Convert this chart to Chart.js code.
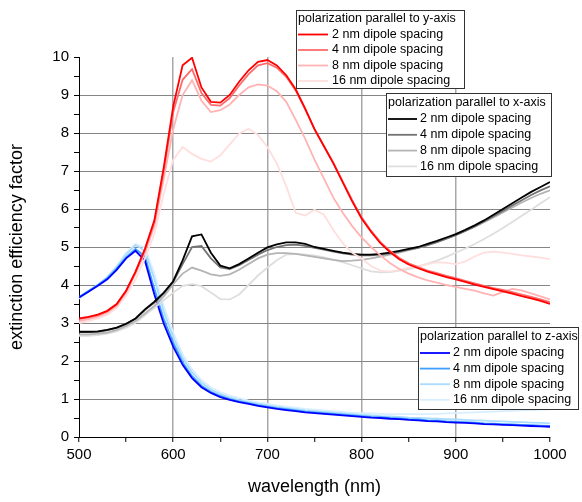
<!DOCTYPE html>
<html>
<head>
<meta charset="utf-8">
<script src="https://cdn.jsdelivr.net/npm/chart.js@4"></script>
<style>
  body { margin: 0; background: #fff; }
</style>
</head>
<body>
<canvas id="extChart" width="582" height="502"></canvas>
<script>
// wavelengths (nm), every 10 nm
const wavelengths = [500, 510, 520, 530, 540, 550, 560, 570, 580, 590, 600, 610, 620, 630, 640, 650, 660, 670, 680, 690, 700,
  710, 720, 730, 740, 750, 760, 770, 780, 790, 800, 810, 820, 830, 840, 850, 860, 870, 880, 890, 900,
  910, 920, 930, 940, 950, 960, 970, 980, 990, 1000];

// polarization parallel to y-axis
const yPol2 = [3.12, 3.16, 3.22, 3.32, 3.5, 3.85, 4.35, 4.95, 5.7, 7.1, 8.7, 9.78, 9.98, 9.2, 8.82, 8.8, 9.0, 9.35, 9.65, 9.87, 9.92,
  9.78, 9.52, 9.15, 8.65, 8.1, 7.65, 7.2, 6.7, 6.2, 5.75, 5.4, 5.1, 4.87, 4.68, 4.54, 4.44, 4.35, 4.28, 4.21, 4.15,
  4.08, 4.01, 3.95, 3.89, 3.83, 3.77, 3.71, 3.65, 3.58, 3.5];
const yPol4 = [3.1, 3.15, 3.21, 3.31, 3.49, 3.84, 4.33, 4.92, 5.65, 7.0, 8.55, 9.4, 9.68, 9.05, 8.74, 8.72, 8.92, 9.25, 9.55, 9.78, 9.84,
  9.72, 9.48, 9.12, 8.63, 8.1, 7.66, 7.22, 6.72, 6.23, 5.78, 5.43, 5.13, 4.9, 4.71, 4.57, 4.47, 4.38, 4.31, 4.24, 4.18,
  4.11, 4.04, 3.98, 3.92, 3.87, 3.81, 3.75, 3.69, 3.62, 3.55];
const yPol8 = [3.05, 3.1, 3.17, 3.27, 3.45, 3.8, 4.3, 4.85, 5.55, 6.8, 8.1, 9.0, 9.39, 8.85, 8.55, 8.6, 8.75, 9.0, 9.2, 9.28, 9.25,
  9.1, 8.82, 8.35, 7.85, 7.3, 6.8, 6.3, 5.9, 5.55, 5.25, 5.0, 4.78, 4.58, 4.42, 4.3, 4.2, 4.12, 4.06, 4.0, 3.95,
  3.9, 3.85, 3.78, 3.72, 3.82, 3.9, 3.86, 3.78, 3.7, 3.62];
const yPol16 = [3.0, 3.05, 3.12, 3.22, 3.4, 3.72, 4.15, 4.7, 5.35, 6.4, 7.3, 7.63, 7.45, 7.32, 7.25, 7.41, 7.7, 7.98, 8.11, 7.95, 7.63,
  7.2, 6.6, 5.9, 5.83, 5.98, 5.85, 5.45, 5.1, 4.85, 4.7, 4.5, 4.38, 4.35, 4.4, 4.45, 4.5, 4.55, 4.6, 4.58, 4.55,
  4.62, 4.75, 4.85, 4.88, 4.85, 4.82, 4.78, 4.75, 4.72, 4.68];

// polarization parallel to x-axis
const xPol2 = [2.77, 2.77, 2.78, 2.82, 2.88, 2.98, 3.12, 3.36, 3.56, 3.8, 4.1, 4.65, 5.28, 5.33, 4.85, 4.51, 4.44, 4.55, 4.7, 4.85, 4.99,
  5.07, 5.12, 5.12, 5.08, 5.0, 4.95, 4.9, 4.85, 4.82, 4.8, 4.8, 4.82, 4.85, 4.9, 4.95, 5.0, 5.08, 5.16, 5.25, 5.34,
  5.45, 5.57, 5.7, 5.85, 6.0, 6.15, 6.3, 6.45, 6.58, 6.71];
const xPol4 = [2.76, 2.76, 2.77, 2.81, 2.87, 2.97, 3.11, 3.34, 3.54, 3.78, 4.08, 4.55, 5.0, 5.03, 4.7, 4.46, 4.42, 4.52, 4.66, 4.8, 4.92,
  5.0, 5.05, 5.06, 5.03, 4.98, 4.93, 4.88, 4.83, 4.8, 4.78, 4.78, 4.8, 4.83, 4.88, 4.93, 4.98, 5.05, 5.13, 5.22, 5.31,
  5.42, 5.54, 5.67, 5.81, 5.95, 6.09, 6.23, 6.37, 6.49, 6.6];
const xPol8 = [2.7, 2.7, 2.72, 2.75, 2.82, 2.92, 3.05, 3.25, 3.45, 3.7, 4.02, 4.3, 4.46, 4.38, 4.28, 4.24, 4.28, 4.4, 4.55, 4.7, 4.8,
  4.84, 4.84, 4.82, 4.78, 4.74, 4.7, 4.66, 4.63, 4.64, 4.66, 4.7, 4.75, 4.8, 4.85, 4.92, 4.98, 5.05, 5.13, 5.22, 5.32,
  5.42, 5.53, 5.65, 5.78, 5.91, 6.04, 6.17, 6.29, 6.4, 6.49];
const xPol16 = [2.66, 2.66, 2.68, 2.72, 2.78, 2.88, 3.0, 3.2, 3.4, 3.6, 3.8, 3.98, 4.02, 3.97, 3.8, 3.63, 3.62, 3.75, 4.0, 4.25, 4.46,
  4.65, 4.8, 4.82, 4.8, 4.78, 4.73, 4.67, 4.6, 4.52, 4.44, 4.36, 4.33, 4.34, 4.38, 4.42, 4.48, 4.56, 4.64, 4.74, 4.85,
  4.96, 5.08, 5.21, 5.35, 5.5, 5.66, 5.82, 5.98, 6.15, 6.31];

// polarization parallel to z-axis
const zPol2 = [3.67, 3.82, 3.98, 4.15, 4.4, 4.7, 4.9, 4.64, 3.75, 2.98, 2.38, 1.9, 1.55, 1.31, 1.16, 1.05, 0.98, 0.92, 0.87, 0.82, 0.78,
  0.74, 0.71, 0.68, 0.65, 0.63, 0.61, 0.59, 0.57, 0.55, 0.53, 0.51, 0.5, 0.48, 0.47, 0.45, 0.44, 0.42, 0.41, 0.39, 0.38,
  0.37, 0.36, 0.34, 0.33, 0.32, 0.31, 0.3, 0.29, 0.28, 0.27];
const zPol4 = [3.68, 3.84, 4.0, 4.18, 4.43, 4.73, 4.95, 4.75, 3.9, 3.1, 2.48, 1.97, 1.6, 1.35, 1.19, 1.08, 1.0, 0.94, 0.89, 0.84, 0.8,
  0.76, 0.73, 0.7, 0.67, 0.65, 0.63, 0.61, 0.59, 0.57, 0.55, 0.53, 0.52, 0.5, 0.49, 0.47, 0.46, 0.44, 0.43, 0.41, 0.4,
  0.39, 0.38, 0.36, 0.35, 0.34, 0.33, 0.32, 0.31, 0.3, 0.29];
const zPol8 = [3.66, 3.83, 4.0, 4.2, 4.47, 4.8, 5.05, 4.9, 4.15, 3.3, 2.62, 2.08, 1.7, 1.43, 1.25, 1.13, 1.04, 0.97, 0.92, 0.87, 0.83,
  0.79, 0.76, 0.73, 0.7, 0.68, 0.66, 0.64, 0.62, 0.6, 0.58, 0.57, 0.55, 0.54, 0.53, 0.51, 0.5, 0.49, 0.48, 0.47, 0.46,
  0.45, 0.44, 0.43, 0.42, 0.41, 0.4, 0.39, 0.38, 0.37, 0.36];
const zPol16 = [3.64, 3.82, 4.0, 4.22, 4.5, 4.85, 5.08, 4.98, 4.3, 3.45, 2.75, 2.18, 1.78, 1.5, 1.31, 1.18, 1.09, 1.02, 0.96, 0.91, 0.87,
  0.83, 0.8, 0.77, 0.74, 0.72, 0.7, 0.68, 0.66, 0.64, 0.63, 0.62, 0.61, 0.6, 0.6, 0.6, 0.6, 0.6, 0.61, 0.62, 0.63,
  0.64, 0.65, 0.66, 0.67, 0.68, 0.69, 0.7, 0.71, 0.72, 0.73];

const spacingLabels = ["2 nm dipole spacing", "4 nm dipole spacing", "8 nm dipole spacing", "16 nm dipole spacing"];
const groupTitles = ["polarization parallel to y-axis", "polarization parallel to x-axis", "polarization parallel to z-axis"];

const groupSeries = [[yPol2, yPol4, yPol8, yPol16], [xPol2, xPol4, xPol8, xPol16], [zPol2, zPol4, zPol8, zPol16]];
const groupColors = [
  ["#ff0000", "#ff6b6b", "#ffb3b3", "#ffdede"],
  ["#000000", "#737373", "#b4b4b4", "#dedede"],
  ["#0000ff", "#3fa0ff", "#a9dbff", "#d9efff"]
];

const FONT = "Arial, 'Liberation Sans', sans-serif";

function toPoints(values) {
  return wavelengths.map((w, i) => ({ x: w, y: values[i] }));
}

const datasets = [];
groupSeries.forEach((series, g) => {
  series.forEach((vals, k) => {
    datasets.push({
      label: spacingLabels[k],
      data: toPoints(vals),
      borderColor: groupColors[g][k],
      borderWidth: 1.8,
      pointRadius: 0,
      tension: 0,
      fill: false
    });
  });
});

// legend boxes: one per polarization group
const legendBoxes = [
  { x: 296, y: 10, w: 168, h: 78, titleY: 18.5, rowY: 34.5, step: 15.5, lineX0: 298, lineX1: 328, textX: 332 },
  { x: 386, y: 93, w: 165, h: 83, titleY: 103, rowY: 119, step: 15.8, lineX0: 388, lineX1: 417, textX: 420 },
  { x: 418, y: 327, w: 160, h: 82, titleY: 337, rowY: 353, step: 15.6, lineX0: 420, lineX1: 450, textX: 453 }
];

const groupLegends = {
  id: "groupLegends",
  afterDraw(chart) {
    const c = chart.ctx;
    c.save();
    legendBoxes.forEach((b, g) => {
      c.fillStyle = "#ffffff";
      c.fillRect(b.x, b.y, b.w, b.h);
      c.strokeStyle = "#333333";
      c.lineWidth = 1;
      c.strokeRect(b.x + 0.5, b.y + 0.5, b.w, b.h);
      c.font = "12.5px " + FONT;
      c.fillStyle = "#000";
      c.textBaseline = "middle";
      c.textAlign = "left";
      c.fillText(groupTitles[g], b.x + 2, b.titleY);
      for (let k = 0; k < 4; k++) {
        const ds = chart.data.datasets[g * 4 + k];
        const yy = b.rowY + k * b.step;
        c.strokeStyle = ds.borderColor;
        c.lineWidth = 1.8;
        c.beginPath();
        c.moveTo(b.lineX0, yy);
        c.lineTo(b.lineX1, yy);
        c.stroke();
        c.fillStyle = "#000";
        c.fillText(ds.label, b.textX, yy);
      }
    });
    c.restore();
  }
};

const ctx = document.getElementById("extChart").getContext("2d");
const extChart = new Chart(ctx, {
  type: "line",
  data: { datasets: datasets },
  plugins: [groupLegends],
  options: {
    responsive: false,
    animation: false,
    layout: { padding: { top: 57, right: 32, left: 0, bottom: 0 } },
    plugins: { legend: { display: false }, tooltip: { enabled: false } },
    scales: {
      x: {
        type: "linear",
        min: 500,
        max: 1000,
        afterFit: s => { s.height = 65; },
        border: { display: true, color: "#000", width: 1 },
        grid: {
          color: c => (c.tick && c.tick.value % 100 === 0 && c.tick.value > 500 && c.tick.value < 1000) ? "#a8a8a8" : "rgba(0,0,0,0)",
          lineWidth: 1.5,
          tickColor: "#000",
          tickWidth: 1,
          tickLength: 5
        },
        ticks: {
          stepSize: 50,
          autoSkip: false,
          maxRotation: 0,
          padding: 4,
          color: "#000",
          font: { family: FONT, size: 15 },
          callback: v => (v % 100 === 0 ? v : "")
        },
        title: {
          display: true,
          text: "wavelength (nm)",
          color: "#000",
          font: { family: FONT, size: 18 },
          padding: { top: 0, bottom: 4 }
        }
      },
      y: {
        min: 0,
        max: 10,
        afterFit: s => { s.width = 79; },
        border: { display: true, color: "#000", width: 1 },
        grid: {
          color: c => (c.tick && Number.isInteger(c.tick.value) && c.tick.value > 0 && c.tick.value < 10) ? "#858585" : "rgba(0,0,0,0)",
          lineWidth: 1,
          tickColor: "#000",
          tickWidth: 1,
          tickLength: 5
        },
        ticks: {
          stepSize: 0.5,
          autoSkip: false,
          padding: 5,
          color: "#000",
          font: { family: FONT, size: 15 },
          callback: v => (Number.isInteger(v) ? v : "")
        },
        title: {
          display: true,
          text: "extinction efficiency factor",
          color: "#000",
          font: { family: FONT, size: 18 },
          padding: { top: 6, bottom: 0 }
        }
      }
    }
  }
});
</script>
</body>
</html>
